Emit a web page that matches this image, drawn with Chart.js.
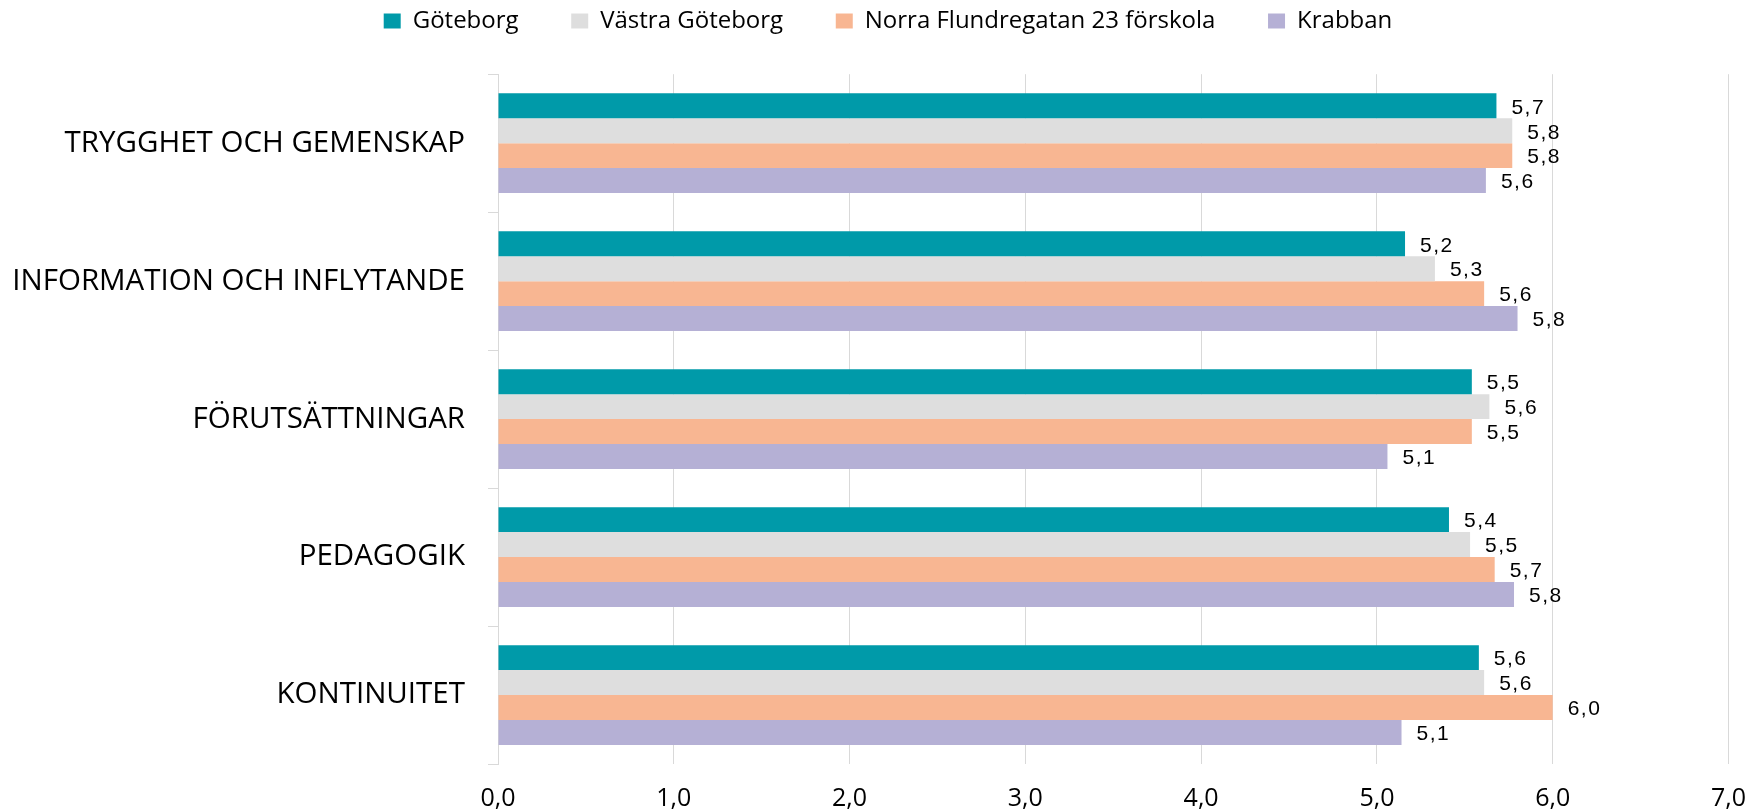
<!DOCTYPE html>
<html>
<head>
<meta charset="utf-8">
<script src="https://cdn.jsdelivr.net/npm/chart.js@4/dist/chart.umd.min.js"></script>
<style>
  html, body { margin: 0; padding: 0; background: #ffffff; }
  #wrap { width: 1746px; height: 812px; }
</style>
</head>
<body>
<div id="wrap"><canvas id="c" width="1746" height="812"></canvas></div>
<script>
const categories = [
  'TRYGGHET OCH GEMENSKAP',
  'INFORMATION OCH INFLYTANDE',
  'FÖRUTSÄTTNINGAR',
  'PEDAGOGIK',
  'KONTINUITET'
];
const seriesNames = ['Göteborg', 'Västra Göteborg', 'Norra Flundregatan 23 förskola', 'Krabban'];
const goteborg = [5.68, 5.16, 5.54, 5.41, 5.58];
const vastraGoteborg = [5.77, 5.33, 5.64, 5.53, 5.61];
const norraFlundregatan = [5.77, 5.61, 5.54, 5.67, 6.0];
const krabban = [5.62, 5.80, 5.06, 5.78, 5.14];
const xTickLabels = ['0,0', '1,0', '2,0', '3,0', '4,0', '5,0', '6,0', '7,0'];
const colors = ['#009aa9', '#dedede', '#f8b692', '#b5b0d5'];

const fmt = v => v.toFixed(1).replace('.', ',');

const dataLabels = {
  id: 'dataLabels',
  afterDatasetsDraw(chart) {
    const ctx = chart.ctx;
    ctx.save();
    ctx.font = '21px "Liberation Sans", Arial, sans-serif';
    if ('letterSpacing' in ctx) ctx.letterSpacing = '1.5px';
    ctx.fillStyle = '#000000';
    ctx.textAlign = 'left';
    ctx.textBaseline = 'middle';
    chart.data.datasets.forEach((ds, di) => {
      const meta = chart.getDatasetMeta(di);
      meta.data.forEach((el, i) => {
        ctx.fillText(fmt(ds.data[i]), el.x + 15, el.y + 2);
      });
    });
    ctx.restore();
  }
};

const gap = '       ';
new Chart(document.getElementById('c'), {
  type: 'bar',
  data: {
    labels: categories,
    datasets: [
      { label: seriesNames[0], data: goteborg, backgroundColor: colors[0] },
      { label: seriesNames[1], data: vastraGoteborg, backgroundColor: colors[1] },
      { label: seriesNames[2], data: norraFlundregatan, backgroundColor: colors[2] },
      { label: seriesNames[3], data: krabban, backgroundColor: colors[3] }
    ]
  },
  options: {
    indexAxis: 'y',
    responsive: false,
    animation: false,
    devicePixelRatio: 1,
    datasets: { bar: { barPercentage: 1.0, categoryPercentage: 0.723 } },
    layout: { padding: { left: 0, right: -30, top: 0, bottom: 0 } },
    plugins: {
      tooltip: { enabled: false },
      subtitle: {
        display: true, text: '', position: 'top', weight: 500,
        font: { size: 1 }, padding: { top: 30, bottom: 0 }
      },
      legend: {
        position: 'top',
        labels: {
          font: { family: '"Open Sans", sans-serif', size: 24 },
          color: '#000000',
          boxWidth: 17,
          boxHeight: 15,
          padding: 9,
          generateLabels(chart) {
            const n = chart.data.datasets.length;
            return chart.data.datasets.map((ds, i) => ({
              text: ds.label + (i < n - 1 ? gap : ''),
              fillStyle: ds.backgroundColor,
              strokeStyle: ds.backgroundColor,
              lineWidth: 0,
              hidden: false,
              datasetIndex: i
            }));
          }
        }
      }
    },
    scales: {
      x: {
        type: 'linear',
        min: 0, max: 7,
        ticks: {
          stepSize: 1,
          font: { family: '"Open Sans", sans-serif', size: 25 },
          color: '#000000',
          padding: 0,
          callback: (v, i) => xTickLabels[i]
        },
        grid: { color: '#d9d9d9', lineWidth: 1, drawTicks: true, tickLength: 20, tickColor: 'rgba(0,0,0,0)' },
        border: { display: false },
        afterFit: s => { s.height = 48; }
      },
      y: {
        ticks: {
          font: { family: '"Open Sans", sans-serif', size: 29.5 },
          color: '#000000',
          padding: 23
        },
        grid: { drawOnChartArea: false, drawTicks: true, tickLength: 10, color: '#d9d9d9', offset: true },
        border: { display: true, color: '#d9d9d9' },
        afterFit: s => { s.width = 498; }
      }
    }
  },
  plugins: [dataLabels]
});
</script>
</body>
</html>
